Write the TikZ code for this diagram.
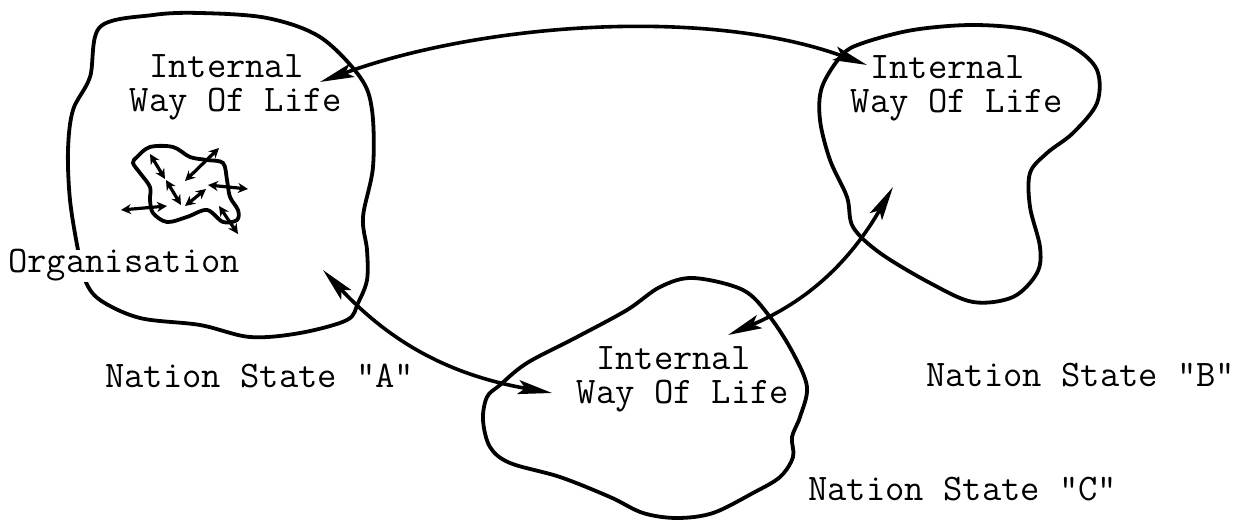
\documentclass[tikz,border=0pt]{standalone}
\usetikzlibrary{arrows.meta}
\begin{document}
\begin{tikzpicture}[x=1pt,y=1pt,
    land/.style={line width=3.8pt,line join=round},
    tie/.style={line width=3.6pt,
        {Stealth[length=34pt,width=14pt,inset=7pt]}-{Stealth[length=34pt,width=14pt,inset=7pt]}},
    jab/.style={line width=3.2pt,
        {Stealth[length=10pt,width=10pt]}-{Stealth[length=10pt,width=10pt]}},
    lbl/.style={font=\fontsize{37.5}{34}\selectfont\ttfamily,inner sep=0pt},
    wol/.style={lbl,align=left}]
  \useasboundingbox (0,0) rectangle (1248,-521);
  % nation A
  \draw[land] plot[smooth cycle,tension=0.55] coordinates {
    (100,-27) (153,-15) (200,-13) (267,-18) (320,-37) (360,-77) (372,-110)
    (373,-167) (363,-217) (367,-250) (367,-280) (358,-303) (347,-320) (300,-333)
    (250,-337) (200,-325) (140,-318) (100,-300) (85,-280) (78,-250) (70,-200)
    (68,-150) (73,-110) (90,-77)};
  % nation B
  \draw[land] plot[smooth cycle,tension=0.55] coordinates {
    (842,-55) (822,-87) (820,-120) (830,-160) (847,-197) (853,-227) (880,-253)
    (930,-283) (973,-302) (1013,-297) (1037,-273) (1040,-247) (1030,-207)
    (1030,-173) (1047,-153) (1073,-133) (1097,-103) (1097,-70) (1073,-47)
    (1030,-30) (973,-25) (913,-30) (863,-43)};
  % nation C
  \draw[land] plot[smooth cycle,tension=0.55] coordinates {
    (500,-385) (487,-397) (483,-420) (490,-447) (510,-463) (560,-477) (610,-497)
    (643,-513) (677,-518) (713,-513) (753,-493) (780,-477) (793,-457) (792,-437)
    (800,-417) (807,-387) (793,-353) (770,-317) (743,-290) (693,-278) (660,-287)
    (627,-310) (577,-337) (527,-363)};
  % organisation
  \draw[land] plot[smooth cycle,tension=0.55] coordinates {
    (137,-157) (150,-147) (173,-147) (190,-157) (207,-160) (223,-163) (227,-180)
    (230,-197) (238,-210) (237,-220) (223,-222) (207,-210) (187,-217) (167,-222)
    (153,-213) (150,-200) (150,-187) (140,-173) (133,-163)};
  \foreach \p/\q in {{150,-154}/{165,-179}, {166,-180}/{181,-205},
      {185,-206}/{206,-189}, {185,-181}/{219,-148}, {208,-185}/{248,-189},
      {121,-210}/{167,-206}, {219,-206}/{238,-234}}
    \draw[jab] (\p) -- (\q);

  \node[wol] (wolA) at (236,-87) {~Internal\\Way Of Life};
  \node[wol] (wolB) at (957,-88) {~Internal\\Way Of Life};
  \node[wol] (wolC) at (683,-379) {~Internal\\Way Of Life};
  \node[lbl,fill=white,anchor=base west] (org) at (8,-273) {Organisation};
  \node[lbl,anchor=base west] (stA) at (105,-387) {Nation State "A"};
  \node[lbl,anchor=base west] (stB) at (926,-386) {Nation State "B"};
  \node[lbl,anchor=base west] (stC) at (808,-500) {Nation State "C"};

  \coordinate (aB) at (320,-82);
  \coordinate (bA) at (867,-65);
  \coordinate (aC) at (323,-270);
  \coordinate (cA) at (552,-393);
  \coordinate (cB) at (728,-335);
  \coordinate (bC) at (893,-187);
  \draw[tie] (aB) to[out=20,in=160,looseness=0.8] (bA);
  \draw[tie] (aC) to[out=-47,in=170] (cA);
  \draw[tie] (cB) to[out=23,in=240] (bC);
\end{tikzpicture}
\end{document}
